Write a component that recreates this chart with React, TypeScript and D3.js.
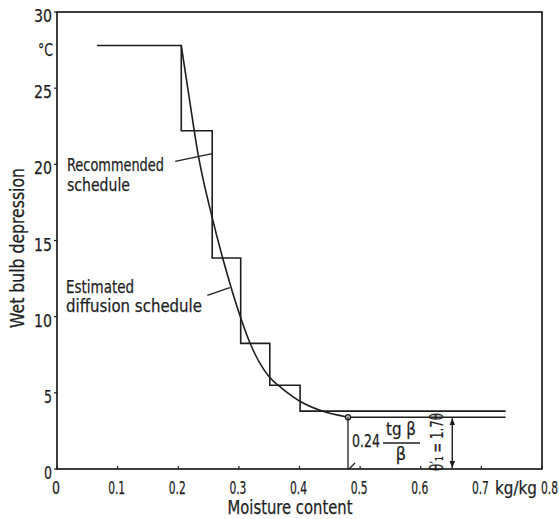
import React from 'react';
import * as d3 from 'd3';

// Values
const xTicks = [0, 0.1, 0.2, 0.3, 0.4, 0.5, 0.6, 0.7, 0.8];
const xTickLabels = ['0', '0.1', '0.2', '0.3', '0.4', '0.5', '0.6', '0.7', '0.8'];
const yTicks = [0, 5, 10, 15, 20, 25, 30];

// recommended schedule: step starts (moisture, wet bulb depression)
const stepX = [0.066, 0.205, 0.256, 0.303, 0.351, 0.401, 0.74];
const stepY = [27.8, 22.2, 13.85, 8.25, 5.5, 3.8, 3.8];

// estimated diffusion schedule
const curveX = [0.205, 0.218, 0.233, 0.256, 0.275, 0.299, 0.318, 0.351, 0.371, 0.403, 0.434, 0.48];
const curveY = [27.8, 24.4, 20.6, 16.5, 13.6, 10.4, 8.3, 6.0, 5.3, 4.4, 3.85, 3.4];
const tailX = [0.48, 0.74];
const tailY = [3.4, 3.4];

const W = 559;
const H = 519;
const ink = '#1e1e1e';
const font = '"DejaVu Sans Condensed", "Liberation Sans Narrow", "DejaVu Sans", sans-serif';

const x = d3.scaleLinear().domain([0, 0.8]).range([57, 542]);
const y = d3.scaleLinear().domain([0, 30]).range([469, 12]);

const T = ({ x: tx, y: ty, w, anchor = 'start', size = 18, children, transform }: any) => (
  <text
    x={tx}
    y={ty}
    fontSize={size}
    textAnchor={anchor}
    fill={ink}
    stroke={ink}
    strokeWidth={0.25}
    transform={transform}
    textLength={w}
    lengthAdjust={w ? 'spacingAndGlyphs' : undefined}
  >
    {children}
  </text>
);

export default function App() {
  const stepLine = d3.line<number>()
    .x((_, i) => x(stepX[i]))
    .y(d => y(d))
    .curve(d3.curveStepAfter);

  const smooth = d3.line<number>()
    .x((_, i) => x(curveX[i]))
    .y(d => y(d))
    .curve(d3.curveMonotoneX);

  const tail = d3.line<number>()
    .x((_, i) => x(tailX[i]))
    .y(d => y(d));

  const xc = x(0.48);
  const arrowX = x(0.652);

  return (
    <svg
      width={W}
      height={H}
      style={{ position: 'absolute', left: 0, top: 0, background: '#fff' }}
      fontFamily={font}
    >
      <defs>
        <marker id="ah" viewBox="0 0 10 10" refX="10" refY="5" markerWidth="5" markerHeight="7" orient="auto-start-reverse">
          <path d="M0,1 L10,5 L0,9 z" fill={ink} />
        </marker>
      </defs>

      {/* frame */}
      <rect x={x(0)} y={y(30)} width={x(0.8) - x(0)} height={y(0) - y(30)} fill="none" stroke={ink} strokeWidth={1.7} />

      {/* y ticks */}
      {yTicks.map(v => (
        <g key={'y' + v}>
          <line x1={x(0) - 3} x2={x(0)} y1={y(v)} y2={y(v)} stroke={ink} strokeWidth={1.2} />
          <T x={52} y={y(v) + 10} anchor="end" w={v >= 10 ? 18 : 8}>{v}</T>
        </g>
      ))}
      <T x={38} y={56} size={17} w={15}>°C</T>

      {/* x ticks */}
      {xTicks.map((v, i) => (
        <g key={'x' + v}>
          <line x1={x(v)} x2={x(v)} y1={y(0)} y2={y(0) - 3} stroke={ink} strokeWidth={1.2} />
          {i < 8 ? (
            <T x={x(v) - 1} y={494} anchor="middle" w={v === 0 ? 8 : 17}>{xTickLabels[i]}</T>
          ) : (
            <T x={x(v) - 1} y={494} w={17}>{xTickLabels[i]}</T>
          )}
        </g>
      ))}
      <T x={495} y={494} w={42}>kg/kg</T>

      {/* axis titles */}
      <T x={290} y={514} anchor="middle" size={19} w={125}>Moisture content</T>
      <T x={0} y={0} anchor="middle" size={19} w={160} transform="translate(24,248) rotate(-90)">Wet bulb depression</T>

      {/* recommended step schedule */}
      <path d={stepLine(stepY) || ''} fill="none" stroke={ink} strokeWidth={1.6} />

      {/* estimated diffusion curve */}
      <path d={smooth(curveY) || ''} fill="none" stroke={ink} strokeWidth={1.6} />
      <path d={tail(tailY) || ''} fill="none" stroke={ink} strokeWidth={1.6} />
      <circle cx={xc} cy={y(3.4)} r={2.6} fill="#bbb" stroke={ink} strokeWidth={1.2} />

      {/* labels with leaders */}
      <T x={67} y={171} w={97}>Recommended</T>
      <T x={67} y={191} w={63}>schedule</T>
      <line x1={x(0.195)} y1={y(20.2)} x2={x(0.256)} y2={y(20.7)} stroke={ink} strokeWidth={1.3} />

      <T x={66} y={293} w={68}>Estimated</T>
      <T x={66} y={312} w={136}>diffusion schedule</T>
      <line x1={x(0.248)} y1={y(11.4)} x2={x(0.285)} y2={y(11.9)} stroke={ink} strokeWidth={1.3} />

      {/* annotation at the end of the curve */}
      <line x1={xc} x2={xc} y1={y(3.4)} y2={y(0)} stroke={ink} strokeWidth={1.3} />
      <line x1={xc + 1} y1={y(0)} x2={xc + 7} y2={y(0) - 6} stroke={ink} strokeWidth={1.2} />
      <T x={352} y={447} w={28}>0.24</T>
      <T x={401} y={435} anchor="middle" w={30}>tg β</T>
      <line x1={383} x2={420} y1={443} y2={443} stroke={ink} strokeWidth={1.3} />
      <T x={401} y={460} anchor="middle">β</T>
      <T x={0} y={0} anchor="middle" w={58} transform="translate(443,442) rotate(-90)">θ′₁ = 1.7θ</T>
      <line
        x1={arrowX} x2={arrowX} y1={y(3.4) + 1} y2={y(0) - 1}
        stroke={ink} strokeWidth={1.4}
        markerStart="url(#ah)" markerEnd="url(#ah)"
      />
    </svg>
  );
}
